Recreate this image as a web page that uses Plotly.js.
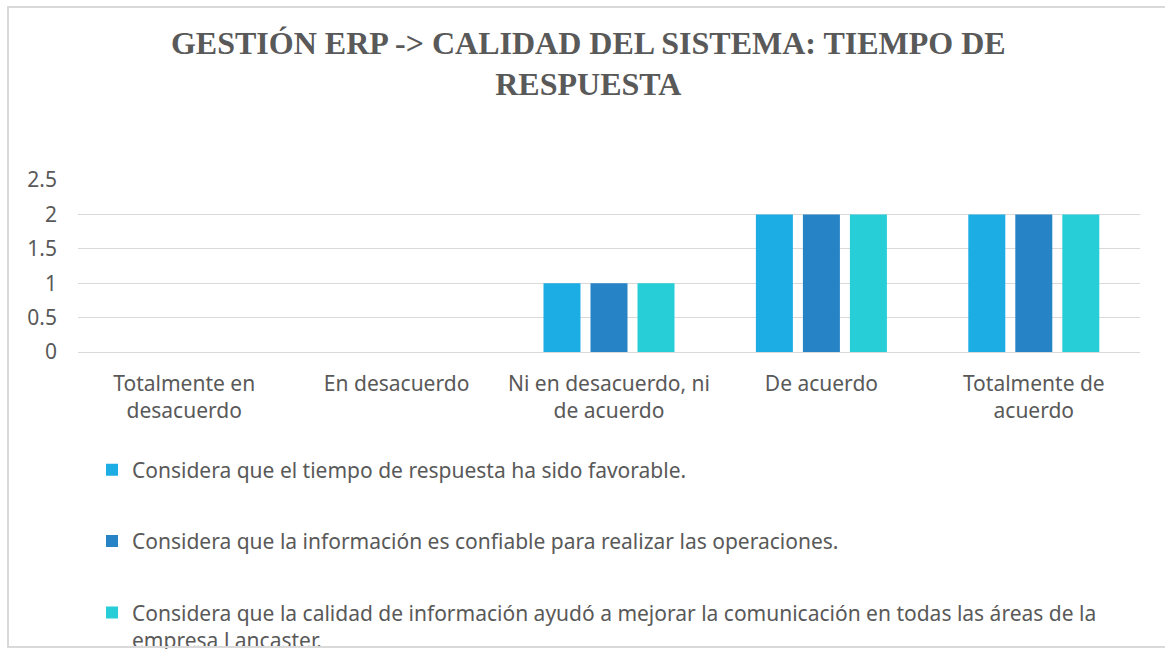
<!DOCTYPE html>
<html>
<head>
<meta charset="utf-8">
<script src="https://cdn.plot.ly/plotly-3.0.1.min.js"></script>
<style>
  html, body { margin: 0; padding: 0; background: #ffffff; }
  #wrap { position: relative; width: 1165px; height: 649px; overflow: hidden; }
  #chart { width: 1165px; height: 649px; }
  #frame { position: absolute; left: 7px; top: 6px; width: 1170px; height: 642px;
           border: 2px solid #d9d9d9; box-sizing: border-box; pointer-events: none; }
</style>
</head>
<body>
<div id="wrap">
  <div id="chart"></div>
  <div id="frame"></div>
</div>
<script>
const categories = [
  "Totalmente en desacuerdo",
  "En desacuerdo",
  "Ni en desacuerdo, ni de acuerdo",
  "De acuerdo",
  "Totalmente de acuerdo"
];
const tickLabels = [
  "Totalmente en<br>desacuerdo",
  "En desacuerdo",
  "Ni en desacuerdo, ni<br>de acuerdo",
  "De acuerdo",
  "Totalmente de<br>acuerdo"
];
const seriesNames = [
  "Considera que el tiempo de respuesta ha sido favorable.",
  "Considera que la información es confiable para realizar las operaciones.",
  "Considera que la calidad de información ayudó a mejorar la comunicación en todas las áreas de la<br>empresa Lancaster."
];
const tiempoRespuesta = [0, 0, 1, 2, 2];
const informacionConfiable = [0, 0, 1, 2, 2];
const calidadComunicacion = [0, 0, 1, 2, 2];
const seriesColors = ["#1CADE4", "#2683C6", "#27CED7"];

const values = [tiempoRespuesta, informacionConfiable, calidadComunicacion];
const traces = values.map((v, i) => ({
  type: "bar",
  x: categories,
  y: v,
  name: seriesNames[i],
  legendgroup: "g" + i,
  marker: { color: seriesColors[i] },
  hoverinfo: "x+y"
}));

const fontFam = "'Noto Sans', 'Open Sans', sans-serif";
const layout = {
  width: 1165,
  height: 649,
  paper_bgcolor: "rgba(0,0,0,0)",
  plot_bgcolor: "rgba(0,0,0,0)",
  margin: { l: 78, r: 25, t: 180, b: 297, autoexpand: false },
  title: {
    text: "GESTIÓN ERP -> CALIDAD DEL SISTEMA: TIEMPO DE<br>RESPUESTA",
    font: { family: "'Liberation Serif', 'Times New Roman', serif", size: 32, color: "#595959", weight: "bold" },
    x: 0.505, xanchor: "center",
    y: 0.917, yanchor: "middle"
  },
  barmode: "group",
  bargap: 0.336,
  bargroupgap: 0.213,
  xaxis: {
    type: "category",
    tickmode: "array",
    tickvals: categories,
    ticktext: tickLabels,
    tickfont: { family: fontFam, size: 21, color: "#595959" },
    showgrid: false,
    showline: false,
    ticks: "",
    ticklabelstandoff: 17,
    fixedrange: true
  },
  yaxis: {
    range: [0, 2.5],
    dtick: 0.5,
    tick0: 0,
    showgrid: true,
    gridcolor: "#d9d9d9",
    gridwidth: 1,
    zeroline: true,
    zerolinecolor: "#d9d9d9",
    zerolinewidth: 1,
    showline: false,
    ticks: "",
    tickfont: { family: fontFam, size: 21, color: "#595959" },
    ticklabelstandoff: 20,
    fixedrange: true
  },
  showlegend: true,
  legend: {
    orientation: "v",
    x: 0.0132,
    xanchor: "left",
    y: -0.5676,
    yanchor: "top",
    valign: "top",
    traceorder: "grouped",
    tracegroupgap: 41,
    font: { family: fontFam, size: 21, color: "#595959" },
    bgcolor: "rgba(0,0,0,0)",
    borderwidth: 0
  }
};

Plotly.newPlot("chart", traces, layout, { displayModeBar: false, staticPlot: true });
</script>
</body>
</html>
